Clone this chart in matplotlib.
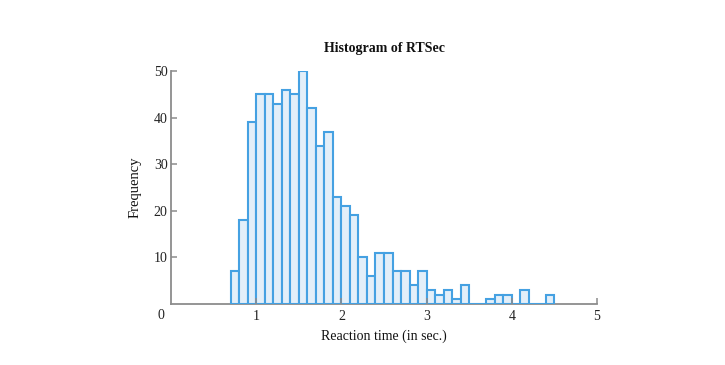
import numpy as np
import matplotlib.pyplot as plt

# histogram of reaction times, bins of 0.1 s starting at 0.7
bin_edges = np.round(np.arange(0.7, 4.51, 0.1), 2)
counts = [7, 18, 39, 45, 45, 43, 46, 45, 50, 42,
          34, 37, 23, 21, 19, 10, 6, 11, 11, 7,
          7, 4, 7, 3, 2, 3, 1, 4, 0, 0,
          1, 2, 2, 0, 3, 0, 0, 2]
x_ticks = [1, 2, 3, 4, 5]
y_ticks = [10, 20, 30, 40, 50]

plt.rcParams['font.family'] = ['Liberation Serif', 'DejaVu Serif']

fig = plt.figure(figsize=(7.25, 3.65), dpi=100, facecolor='white')
ax = fig.add_axes([171/725, 1 - 304/365, (597 - 171)/725, (304 - 71)/365])

ax.bar(bin_edges[:-1], counts, width=0.1, align='edge',
       color='#e3eff9', edgecolor='#45a1e2', linewidth=1.5)

ax.set_xlim(0, 5)
ax.set_ylim(0, 50)
for s in ['top', 'right']:
    ax.spines[s].set_visible(False)
for s in ['left', 'bottom']:
    ax.spines[s].set_color('#8c8c8c')
    ax.spines[s].set_linewidth(1.3)
    ax.spines[s].set_zorder(0)

ax.set_xticks(x_ticks)
ax.set_yticks(y_ticks)
ax.tick_params(direction='in', length=4, width=1.1, color='#8c8c8c',
               labelsize=10, labelcolor='#222222', pad=4)
ax.tick_params(axis='y', pad=2.5)
ax.text(-0.12, -2.4, '0', ha='center', va='center', fontsize=10, color='#222222')

ax.set_title('Histogram of RTSec', fontsize=10, fontweight='bold', pad=14,
             color='#111111')
ax.set_xlabel('Reaction time (in sec.)', fontsize=10, labelpad=5, color='#111111')
ax.set_ylabel('Frequency', fontsize=10.5, labelpad=9, color='#111111')

fig.savefig('out.png', dpi=100, facecolor='white')
